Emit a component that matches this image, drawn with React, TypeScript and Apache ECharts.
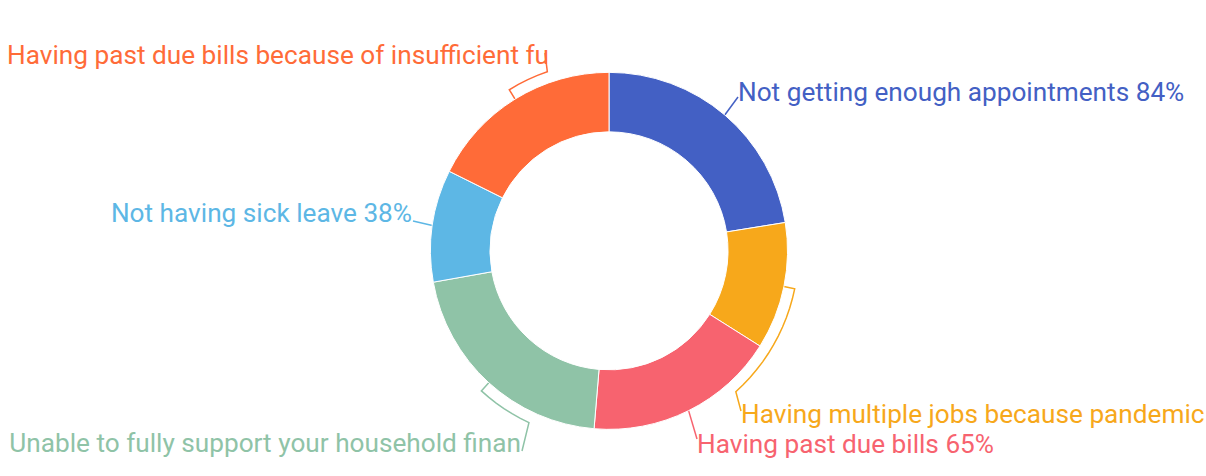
import React, { useEffect, useRef } from "react";
import * as echarts from "echarts";

const categories = [
  "Not getting enough appointments",
  "Having multiple jobs because pandemic",
  "Having past due bills",
  "Unable to fully support your household finances",
  "Not having sick leave",
  "Having past due bills because of insufficient funds",
];
const labelTexts = [
  "Not getting enough appointments 84%",
  "Having multiple jobs because pandemic",
  "Having past due bills 65%",
  "Unable to fully support your household finan",
  "Not having sick leave 38%",
  "Having past due bills because of insufficient fu",
];
const values = [84, 43, 65, 78, 38, 66];
const colors = ["#4360C4", "#F7A81B", "#F7636F", "#8FC3A7", "#5DB7E5", "#FF6B38"];

// label placement: anchor (px), alignment, and the angle (deg, clockwise from top)
// the guide line travels to before turning to the text (null = straight)
const labelAnchors: [number, number][] = [
  [738, 92],
  [741, 414],
  [697, 444],
  [521, 443],
  [412, 213],
  [549, 55],
];
const labelAligns = ["left", "left", "left", "right", "right", "right"];
const lineEnds: [number, number][] = [
  [738, 97],
  [741, 411],
  [697, 439],
  [522, 451],
  [413, 221],
  [545, 53],
];
const arcTurn: (number | null)[] = [null, 138, null, 205, null, 341];

export default function App() {
  const ref = useRef<HTMLDivElement>(null);
  useEffect(() => {
    document.body.style.margin = "0";
    const chart = echarts.init(ref.current!, null, { renderer: "svg" });
    const total = values.reduce((a, b) => a + b, 0);
    const W = chart.getWidth();
    const H = chart.getHeight();
    const cx = 0.505 * W;
    const cy = 0.527 * H;
    const R = (0.75 * Math.min(W, H)) / 2;
    const polar = (deg: number, r: number): [number, number] => {
      const a = (deg * Math.PI) / 180;
      return [cx + r * Math.sin(a), cy - r * Math.cos(a)];
    };
    const midAngles: number[] = [];
    let acc = 0;
    values.forEach((v) => {
      midAngles.push(((acc + v / 2) / total) * 360);
      acc += v;
    });

    chart.setOption({
      animation: false,
      series: [
        {
          type: "pie",
          radius: ["50%", "75%"],
          center: ["50.5%", "52.7%"],
          startAngle: 90,
          avoidLabelOverlap: false,
          itemStyle: { borderColor: "#fff", borderWidth: 1 },
          label: {
            fontFamily: "Roboto",
            fontSize: 26.2,
            overflow: "none",
            formatter: (p: any) => labelTexts[p.dataIndex],
          },
          labelLine: { length: 12, length2: 8, smooth: false },
          labelLayout: (params: any) => {
            const i = params.dataIndex;
            const m = midAngles[i];
            const pts: [number, number][] = [polar(m, R)];
            const turn = arcTurn[i];
            if (turn != null) {
              const r1 = R + 11;
              const steps = Math.max(1, Math.round(Math.abs(turn - m) / 3));
              for (let s = 0; s <= steps; s++) {
                pts.push(polar(m + ((turn - m) * s) / steps, r1));
              }
            }
            pts.push(lineEnds[i]);
            return {
              x: labelAnchors[i][0],
              y: labelAnchors[i][1],
              align: labelAligns[i],
              verticalAlign: "middle",
              labelLinePoints: pts,
            };
          },
          data: categories.map((c, i) => ({
            name: c,
            value: values[i],
            itemStyle: { color: colors[i] },
            label: { color: colors[i] },
            labelLine: { lineStyle: { color: colors[i], width: 1.5 } },
          })),
        },
      ],
    });
    return () => chart.dispose();
  }, []);
  return <div ref={ref} style={{ width: 1206, height: 476 }} />;
}
